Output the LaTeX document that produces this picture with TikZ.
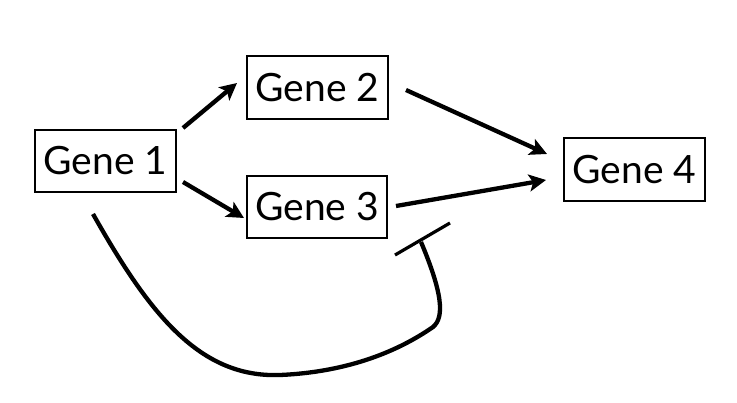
\documentclass[tikz,border=0pt]{standalone}
\usepackage{fontspec}
\setmainfont{Lato}
\usetikzlibrary{arrows.meta}
\tikzset{
  gene/.style={draw, line width=2.8pt, inner sep=0pt, font=\fontsize{39}{45}\selectfont},
  act/.style={line width=4.3pt, -{Stealth[length=17pt,width=17pt,inset=4pt]}},
  inh/.style={line width=4.3pt},
  bar/.style={line width=3.2pt}
}
\begin{document}
\begin{tikzpicture}[x=1pt,y=-1pt]
\useasboundingbox (0,0) rectangle (737,403);
\node[gene, minimum width=141pt, minimum height=62pt] (g1) at (105.5,161) {Gene 1};
\node[gene, minimum width=141pt, minimum height=63pt] (g2) at (317.5,87.5) {Gene 2};
\node[gene, minimum width=140pt, minimum height=62pt] (g3) at (317,207) {Gene 3};
\node[gene, minimum width=141pt, minimum height=63pt] (g4) at (634.5,169.5) {Gene 4};
\coordinate (a1s) at (183,128);
\coordinate (a1e) at (237,83);
\coordinate (a2s) at (183,182);
\coordinate (a2e) at (244,218);
\coordinate (a3s) at (406,90);
\coordinate (a3e) at (547,154);
\coordinate (a4s) at (396,206);
\coordinate (a4e) at (546,180);
\coordinate (is) at (93,214);
\coordinate (ie) at (421,242);
\coordinate (b1) at (395,255);
\coordinate (b2) at (450,223);
\draw[act] (a1s) -- (a1e);
\draw[act] (a2s) -- (a2e);
\draw[act] (a3s) -- (a3e);
\draw[act] (a4s) -- (a4e);
\draw[inh] (is) .. controls (150,315) and (200,378) .. (280,375)
  .. controls (350,372) and (400,350) .. (433,327)
  .. controls (445,317) and (442,292) .. (ie);
\draw[bar] (b1) -- (b2);
\end{tikzpicture}
\end{document}
